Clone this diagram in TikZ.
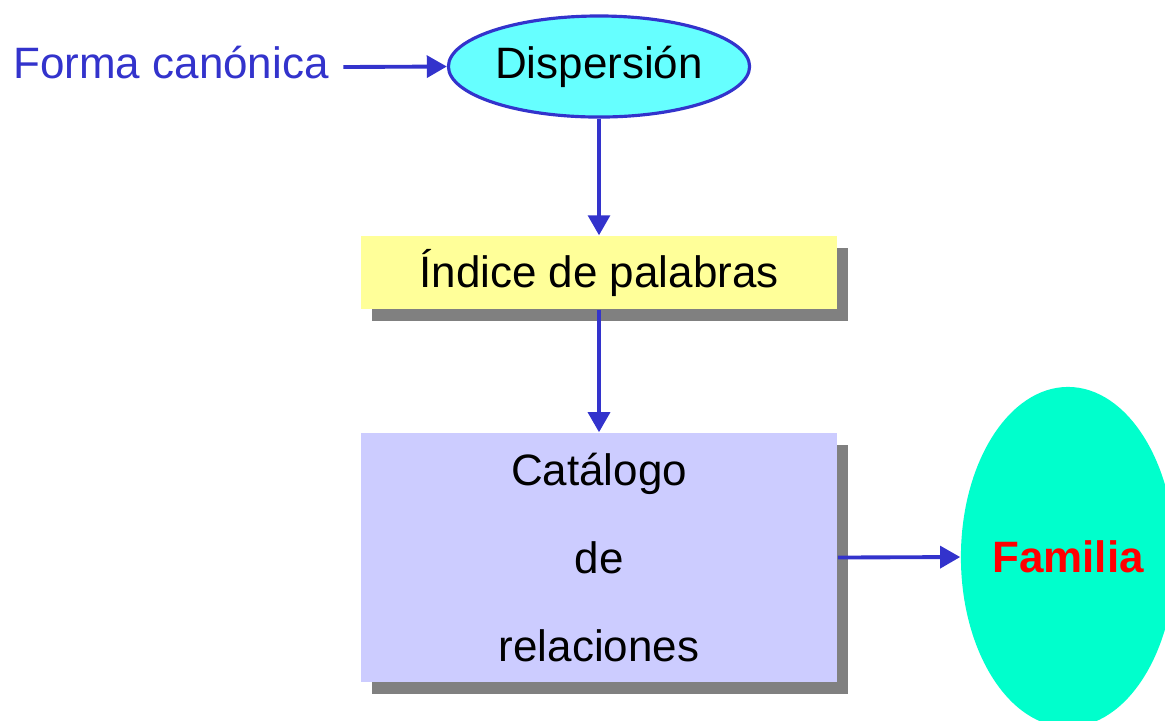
\documentclass[tikz,border=0pt]{standalone}
\usepackage{fontspec}
\setmainfont{Liberation Sans}
\usetikzlibrary{arrows.meta,shapes.geometric,shadows}

\definecolor{azul}{HTML}{3333CC}
\definecolor{cian}{HTML}{66FFFF}
\definecolor{amarillo}{HTML}{FFFF99}
\definecolor{lila}{HTML}{CCCCFF}
\definecolor{turquesa}{HTML}{00FFCC}
\definecolor{sombra}{HTML}{808080}

\begin{document}
\begin{tikzpicture}[x=0.01cm, y=-0.01cm]

\tikzset{
	texto/.style = {font=\fontsize{12.5}{25}\selectfont},
	caja/.style = {texto, rectangle, fill=#1, inner sep=0pt, minimum width=4.76cm, align=center,
		drop shadow={shadow xshift=0.11cm, shadow yshift=-0.12cm, fill=sombra, opacity=1}},
	flecha/.style = {draw=azul, line width=1.1pt, -{Triangle[length=5.7pt, width=6.2pt]}}
}

\useasboundingbox (0, 0) rectangle (1165, 720);
\clip (0, 0) rectangle (1165, 720);

\node[texto, text=azul, inner ysep=0pt, inner xsep=0.14cm, text height=0.64em, text depth=0pt] (forma) at (171, 67) {Forma canónica};
\node[texto, ellipse, draw=azul, line width=0.9pt, fill=cian, inner sep=0pt, minimum width=3.01cm, minimum height=1.01cm] (disp) at (599, 66.5) {Dispersión};

\node[caja=amarillo, minimum height=0.73cm] (indice) at (599, 272.5) {Índice de palabras};
\node[caja=lila, minimum height=2.49cm] (catalogo) at (599, 557.5) {Catálogo\\de\\relaciones};

\node[ellipse, fill=turquesa, inner sep=0pt, minimum width=2.04cm, minimum height=3.4cm, text=red, font=\bfseries\fontsize{12.5}{15}\selectfont] (familia) at (1068, 557) {Familia};

\draw[flecha] (forma.east) -- (disp.west);
\draw[flecha] (disp.south) -- (indice.north);
\draw[flecha] (indice.south) -- (catalogo.north);
\draw[flecha] (catalogo.east) -- (familia.west);

\end{tikzpicture}
\end{document}
